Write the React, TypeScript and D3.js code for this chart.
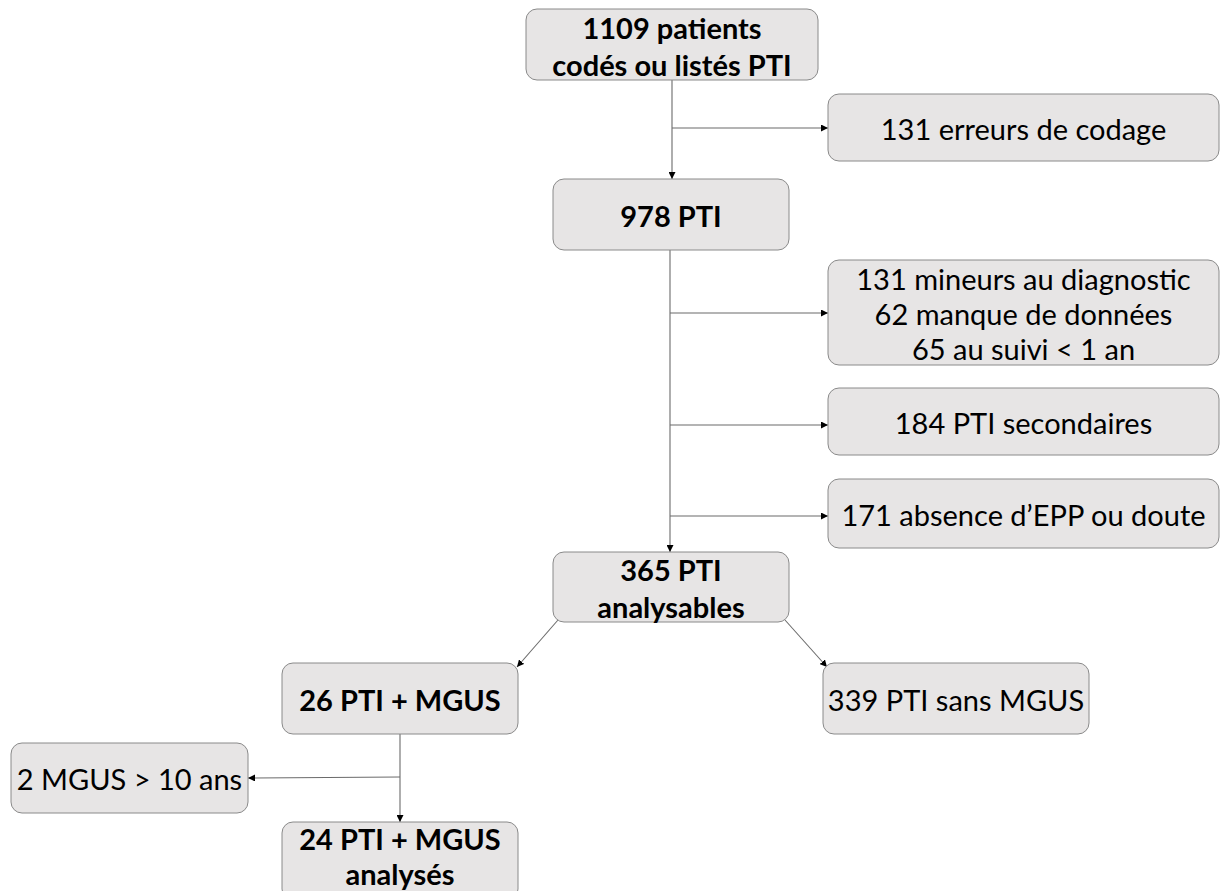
import React from "react";
import * as d3 from "d3";

// Labels (content)
const mainLabels: string[][] = [
  ["1109 patients", "codés ou listés PTI"],
  ["978 PTI"],
  ["365 PTI", "analysables"],
  ["26 PTI + MGUS"],
  ["24 PTI + MGUS", "analysés"],
];
const exclusionLabels: string[][] = [
  ["131 erreurs de codage"],
  ["131 mineurs au diagnostic", "62 manque de données", "65 au suivi < 1 an"],
  ["184 PTI secondaires"],
  ["171 absence d\u2019EPP ou doute"],
];
const sideLabels: string[][] = [["339 PTI sans MGUS"], ["2 MGUS > 10 ans"]];

// Layout
type Box = { x0: number; x1: number; y0: number; y1: number; cy: number; lines: string[]; bold: boolean; lh: number };
const mainLayout = [
  { x0: 526, x1: 818, y0: 9, y1: 80, cy: 46, lh: 37 },
  { x0: 553, x1: 789, y0: 179, y1: 250, cy: 215, lh: 37 },
  { x0: 553, x1: 789, y0: 552, y1: 622, cy: 588, lh: 37 },
  { x0: 282, x1: 518, y0: 663, y1: 734, cy: 699, lh: 37 },
  { x0: 282, x1: 518, y0: 822, y1: 900, cy: 856, lh: 35 },
];
const exclLayout = [
  { x0: 828, x1: 1219, y0: 94, y1: 161, cy: 128, lh: 35 },
  { x0: 828, x1: 1219, y0: 260, y1: 365, cy: 313, lh: 35 },
  { x0: 828, x1: 1219, y0: 388, y1: 455, cy: 422, lh: 35 },
  { x0: 828, x1: 1219, y0: 479, y1: 548, cy: 514, lh: 35 },
];
const sideLayout = [
  { x0: 823, x1: 1089, y0: 663, y1: 734, cy: 699, lh: 35 },
  { x0: 11, x1: 248, y0: 743, y1: 813, cy: 778, lh: 35 },
];

const boxes: Box[] = [
  ...mainLabels.map((l, i) => ({ ...mainLayout[i], lines: l, bold: true })),
  ...exclusionLabels.map((l, i) => ({ ...exclLayout[i], lines: l, bold: false })),
  ...sideLabels.map((l, i) => ({ ...sideLayout[i], lines: l, bold: false })),
];

const line = d3.line<[number, number]>();

type Seg = { pts: [number, number][]; arrow: boolean };
const segs: Seg[] = [
  { pts: [[672, 80], [672, 179]], arrow: true },
  { pts: [[672, 128], [828, 128]], arrow: true },
  { pts: [[670, 250], [670, 552]], arrow: true },
  { pts: [[670, 313], [828, 313]], arrow: true },
  { pts: [[670, 425], [828, 425]], arrow: true },
  { pts: [[670, 516], [828, 516]], arrow: true },
  { pts: [[558, 620], [517, 667]], arrow: true },
  { pts: [[785, 620], [827, 667]], arrow: true },
  { pts: [[400, 734], [400, 822]], arrow: true },
  { pts: [[400, 777], [248, 778]], arrow: true },
];

export default function App() {
  const W = 1221, H = 891;
  return (
    <svg width={W} height={H} style={{ position: "absolute", left: 0, top: 0, background: "#fff" }}>
      <defs>
        <marker id="arr" viewBox="0 0 10 10" refX="10" refY="5" markerWidth="7" markerHeight="7" markerUnits="userSpaceOnUse" orient="auto">
          <path d="M0,0 L10,5 L0,10 z" fill="#000" />
        </marker>
      </defs>
      {segs.map((s, i) => (
        <path key={i} d={line(s.pts) || ""} stroke="#6b6b6b" strokeWidth={1.1} fill="none" markerEnd={s.arrow ? "url(#arr)" : undefined} />
      ))}
      {boxes.map((b, i) => {
        const cx = (b.x0 + b.x1) / 2;
        const n = b.lines.length;
        return (
          <g key={i}>
            <rect x={b.x0} y={b.y0} width={b.x1 - b.x0} height={b.y1 - b.y0} rx={11} ry={11} fill="#e7e5e5" stroke="#8a8a8a" strokeWidth={1} />
            {b.lines.map((t, j) => (
              <text
                key={j}
                x={cx}
                y={b.cy + (j - (n - 1) / 2) * b.lh}
                textAnchor="middle"
                dominantBaseline="central"
                fontFamily="Lato, 'Open Sans', sans-serif"
                fontWeight={b.bold ? 700 : 400}
                fontSize={29}
                fill="#000"
              >
                {t}
              </text>
            ))}
          </g>
        );
      })}
    </svg>
  );
}
